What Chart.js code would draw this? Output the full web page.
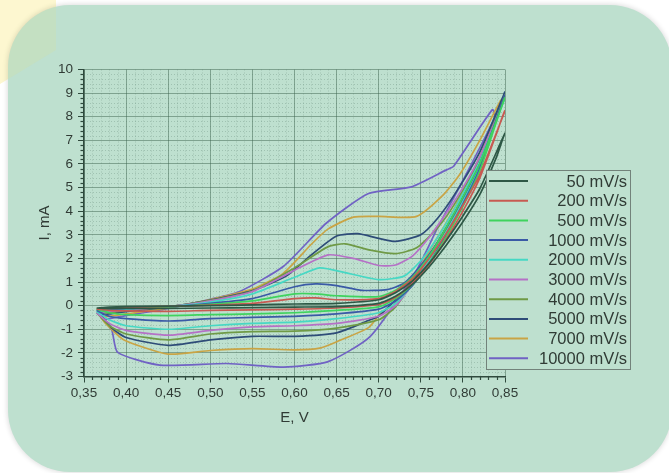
<!DOCTYPE html>
<html>
<head>
<meta charset="utf-8">
<script src="https://cdn.jsdelivr.net/npm/chart.js@4.4.1/dist/chart.umd.min.js"></script>
<style>
  html, body { margin: 0; padding: 0; background: #ffffff; width: 669px; height: 473px; overflow: hidden; }
  #blob { position: absolute; left: 0; top: 0; width: 56px; height: 84px; background: #fffbdf;
          clip-path: polygon(0 0, 56px 0, 56px 50px, 0 84px); }
  #panel { position: absolute; left: 8px; top: 5px; width: 664px; height: 467px; border-radius: 62px;
           background: #bee0cf; box-shadow: 0 0 5px 1px rgba(0,0,0,0.13); }
  #tint { position: absolute; left: 0; top: 0; width: 56px; height: 84px; background: rgba(236,226,110,0.13);
          clip-path: polygon(0 0, 56px 0, 56px 50px, 0 84px); }
  #wrap { position: absolute; left: 0; top: 0; width: 669px; height: 473px; }
</style>
</head>
<body>
<div id="blob"></div>
<div id="panel"></div>
<div id="tint"></div>
<div id="wrap"><canvas id="cv" width="669" height="473"></canvas></div>
<script>
// Cyclic voltammograms, [E (V), I (mA)] pairs: forward scan then reverse scan.
const scanLabels = ['50 mV/s', '200 mV/s', '500 mV/s', '1000 mV/s', '2000 mV/s',
                    '3000 mV/s', '4000 mV/s', '5000 mV/s', '7000 mV/s', '10000 mV/s'];

const scan50 = [
  [0.365,-0.10],[0.38,-0.06],[0.40,-0.04],[0.45,-0.02],[0.50,0.00],[0.55,0.03],[0.60,0.07],[0.65,0.10],
  [0.70,0.25],[0.72,0.55],[0.74,1.05],[0.76,1.80],[0.78,2.75],[0.80,3.80],[0.82,4.95],[0.85,7.30],
  [0.84,6.30],[0.82,4.70],[0.80,3.55],[0.78,2.55],[0.76,1.65],[0.74,0.90],[0.72,0.40],[0.70,0.10],
  [0.65,-0.04],[0.60,-0.06],[0.55,-0.08],[0.50,-0.10],[0.45,-0.12],[0.40,-0.12],[0.38,-0.12],[0.365,-0.10]
];
const scan200 = [
  [0.365,-0.15],[0.38,-0.10],[0.40,-0.07],[0.45,-0.03],[0.50,0.02],[0.55,0.10],[0.60,0.30],[0.625,0.33],
  [0.65,0.25],[0.70,0.30],[0.72,0.60],[0.74,1.15],[0.76,2.00],[0.78,3.05],[0.80,4.25],[0.82,5.55],[0.85,8.25],
  [0.84,7.30],[0.82,5.40],[0.80,4.00],[0.78,2.80],[0.76,1.75],[0.74,0.95],[0.72,0.35],[0.70,0.05],
  [0.65,-0.10],[0.60,-0.15],[0.55,-0.18],[0.50,-0.20],[0.45,-0.24],[0.40,-0.22],[0.38,-0.20],[0.365,-0.15]
];
const scan500 = [
  [0.365,-0.15],[0.38,-0.12],[0.40,-0.10],[0.45,-0.05],[0.50,0.05],[0.55,0.20],[0.60,0.50],[0.625,0.50],
  [0.65,0.42],[0.70,0.38],[0.72,0.65],[0.74,1.20],[0.76,2.10],[0.78,3.30],[0.80,4.60],[0.82,6.00],[0.85,8.80],
  [0.84,7.80],[0.82,5.70],[0.80,4.20],[0.78,2.90],[0.76,1.80],[0.74,0.90],[0.72,0.30],[0.70,-0.05],
  [0.65,-0.20],[0.60,-0.30],[0.55,-0.35],[0.50,-0.38],[0.45,-0.42],[0.40,-0.38],[0.38,-0.30],[0.365,-0.15]
];
const scan1000 = [
  [0.365,-0.20],[0.38,-0.15],[0.40,-0.12],[0.45,-0.05],[0.50,0.10],[0.55,0.30],[0.60,0.80],[0.625,0.92],
  [0.65,0.85],[0.68,0.65],[0.71,0.68],[0.73,0.95],[0.75,1.70],[0.77,2.70],[0.79,3.90],[0.82,6.00],[0.85,8.90],
  [0.84,7.90],[0.82,5.80],[0.80,4.30],[0.78,3.00],[0.76,1.80],[0.74,0.85],[0.72,0.20],[0.70,-0.15],
  [0.65,-0.35],[0.60,-0.45],[0.55,-0.50],[0.50,-0.55],[0.45,-0.65],[0.40,-0.55],[0.38,-0.45],[0.365,-0.20]
];
const scan2000 = [
  [0.365,-0.25],[0.38,-0.20],[0.40,-0.15],[0.45,-0.05],[0.50,0.15],[0.55,0.50],[0.60,1.20],[0.63,1.60],
  [0.66,1.40],[0.70,1.10],[0.73,1.25],[0.75,1.90],[0.77,2.90],[0.79,4.10],[0.82,6.10],[0.85,8.80],
  [0.84,7.90],[0.82,5.90],[0.80,4.40],[0.78,3.10],[0.76,1.90],[0.74,0.90],[0.72,0.10],[0.70,-0.30],
  [0.65,-0.55],[0.60,-0.70],[0.55,-0.75],[0.50,-0.85],[0.45,-1.00],[0.40,-0.85],[0.38,-0.60],[0.365,-0.25]
];
const scan3000 = [
  [0.365,-0.30],[0.38,-0.25],[0.40,-0.18],[0.45,-0.05],[0.50,0.20],[0.55,0.60],[0.60,1.50],[0.64,2.15],
  [0.67,2.00],[0.70,1.70],[0.72,1.72],[0.74,2.10],[0.76,2.90],[0.78,3.90],[0.80,5.00],[0.82,6.30],[0.85,8.80],
  [0.84,7.90],[0.82,5.90],[0.80,4.40],[0.78,3.10],[0.76,1.95],[0.74,0.90],[0.72,0.00],[0.70,-0.45],
  [0.65,-0.75],[0.60,-0.85],[0.55,-0.90],[0.50,-1.05],[0.45,-1.25],[0.40,-1.05],[0.38,-0.75],[0.365,-0.30]
];
const scan4000 = [
  [0.365,-0.30],[0.38,-0.30],[0.40,-0.20],[0.45,-0.05],[0.50,0.22],[0.55,0.62],[0.60,1.60],[0.64,2.50],
  [0.66,2.62],[0.69,2.35],[0.72,2.20],[0.745,2.45],[0.77,3.30],[0.79,4.30],[0.82,6.20],[0.85,8.90],
  [0.84,7.90],[0.82,5.95],[0.80,4.50],[0.78,3.20],[0.76,2.00],[0.74,0.95],[0.72,-0.05],[0.70,-0.60],
  [0.65,-0.95],[0.60,-1.08],[0.55,-1.10],[0.50,-1.20],[0.45,-1.45],[0.40,-1.20],[0.38,-0.85],[0.365,-0.30]
];
const scan5000 = [
  [0.37,-0.40],[0.38,-0.35],[0.40,-0.25],[0.45,-0.05],[0.50,0.24],[0.55,0.64],[0.59,1.25],[0.62,2.15],
  [0.65,2.95],[0.675,3.05],[0.70,2.85],[0.72,2.72],[0.75,3.00],[0.77,3.70],[0.79,4.70],[0.82,6.50],[0.85,9.05],
  [0.84,8.00],[0.82,6.10],[0.80,4.60],[0.78,3.30],[0.76,2.10],[0.74,1.00],[0.72,0.25],[0.70,-0.45],
  [0.69,-0.60],[0.65,-1.15],[0.60,-1.30],[0.55,-1.30],[0.50,-1.45],[0.45,-1.68],[0.40,-1.35],[0.383,-0.95],[0.37,-0.40]
];
const scan7000 = [
  [0.37,-0.50],[0.38,-0.45],[0.40,-0.35],[0.45,-0.10],[0.50,0.26],[0.55,0.70],[0.587,1.38],[0.62,2.60],
  [0.64,3.25],[0.67,3.75],[0.70,3.78],[0.745,3.78],[0.777,4.70],[0.797,5.60],[0.82,7.00],[0.845,8.70],
  [0.84,8.10],[0.82,6.30],[0.80,4.80],[0.78,3.50],[0.76,2.30],[0.74,1.10],[0.72,0.10],[0.703,-0.30],
  [0.688,-0.93],[0.652,-1.50],[0.63,-1.80],[0.60,-1.87],[0.55,-1.82],[0.50,-1.90],[0.45,-2.05],
  [0.397,-1.44],[0.375,-0.73],[0.37,-0.50]
];
const scan10000 = [
  [0.373,-0.59],[0.40,-0.42],[0.45,-0.12],[0.50,0.27],[0.535,0.60],[0.587,1.67],[0.638,3.50],[0.688,4.75],
  [0.739,5.03],[0.781,5.76],[0.789,5.90],[0.835,8.30],
  [0.838,8.00],[0.80,5.30],[0.77,3.30],[0.745,1.50],[0.69,-1.30],[0.64,-2.37],[0.587,-2.60],[0.52,-2.45],
  [0.44,-2.52],[0.39,-1.98],[0.383,-1.04],[0.373,-0.59]
];

const scanSeries = [scan50, scan200, scan500, scan1000, scan2000, scan3000, scan4000, scan5000, scan7000, scan10000];
const scanColors = ['#2e5846', '#c75a52', '#3fd35e', '#3a5aa6', '#46d8c4', '#b571c6', '#6f9a46', '#2e4c78', '#c9a445', '#7062c4'];

const xTickValues = [0.35, 0.40, 0.45, 0.50, 0.55, 0.60, 0.65, 0.70, 0.75, 0.80, 0.85];
const yTickValues = [-3, -2, -1, 0, 1, 2, 3, 4, 5, 6, 7, 8, 9, 10];

const inkColor = '#303b35';
const axisColor = '#2f4a3d';
const fontFamily = '"Liberation Sans", Arial, sans-serif';

// Fine dotted paper grid and short minor ticks between the labelled ones
const minorGrid = {
  id: 'minorGrid',
  beforeDatasetsDraw(chart) {
    const { ctx, chartArea: a, scales: { x, y } } = chart;
    ctx.save();
    ctx.lineWidth = 1;
    ctx.setLineDash([1, 2]);
    ctx.strokeStyle = 'rgba(80,120,100,0.28)';
    for (let k = 0; k <= 50; k++) {
      if (k % 5 === 0) continue;
      const px = Math.round(x.getPixelForValue(0.35 + k * 0.01)) + 0.5;
      ctx.beginPath(); ctx.moveTo(px, a.top); ctx.lineTo(px, a.bottom); ctx.stroke();
    }
    for (let k = 0; k <= 65; k++) {
      if (k % 5 === 0) continue;
      const py = Math.round(y.getPixelForValue(-3 + k * 0.2)) + 0.5;
      ctx.beginPath(); ctx.moveTo(a.left, py); ctx.lineTo(a.right, py); ctx.stroke();
    }
    ctx.setLineDash([]);
    ctx.strokeStyle = axisColor;
    ctx.lineWidth = 1.2;
    for (let k = 0; k <= 50; k++) {
      if (k % 5 === 0) continue;
      const px = Math.round(x.getPixelForValue(0.35 + k * 0.01)) + 0.5;
      ctx.beginPath(); ctx.moveTo(px, a.bottom); ctx.lineTo(px, a.bottom + 3.5); ctx.stroke();
    }
    for (let k = 0; k <= 65; k++) {
      if (k % 5 === 0) continue;
      const py = Math.round(y.getPixelForValue(-3 + k * 0.2)) + 0.5;
      ctx.beginPath(); ctx.moveTo(a.left - 3.5, py); ctx.lineTo(a.left, py); ctx.stroke();
    }
    ctx.restore();
  }
};

// Boxed key with the line sample on the left and right-aligned labels
const scanKey = {
  id: 'scanKey',
  afterDraw(chart) {
    const { ctx } = chart;
    const left = 486.5, top = 170.5, right = 630.5, bottom = 369.5;
    ctx.save();
    ctx.fillStyle = '#bee0cf';
    ctx.fillRect(left, top, right - left, bottom - top);
    ctx.strokeStyle = '#72827a';
    ctx.lineWidth = 1;
    ctx.strokeRect(left, top, right - left, bottom - top);
    ctx.font = '16.5px ' + fontFamily;
    ctx.textAlign = 'right';
    ctx.textBaseline = 'middle';
    chart.data.datasets.forEach((ds, i) => {
      const cy = 181 + i * 19.7;
      ctx.strokeStyle = ds.borderColor;
      ctx.lineWidth = 2;
      ctx.beginPath(); ctx.moveTo(489, cy); ctx.lineTo(528, cy); ctx.stroke();
      ctx.fillStyle = inkColor;
      ctx.fillText(ds.label, 627, cy + 1);
    });
    ctx.restore();
  }
};

new Chart(document.getElementById('cv'), {
  type: 'line',
  data: {
    datasets: scanSeries.map((pts, i) => ({
      label: scanLabels[i],
      data: pts.map(p => ({ x: p[0], y: p[1] })),
      borderColor: scanColors[i],
      backgroundColor: scanColors[i],
      borderWidth: 1.7,
      pointRadius: 0,
      tension: 0.2,
      fill: false
    }))
  },
  options: {
    responsive: false,
    animation: false,
    events: [],
    layout: { padding: { left: 36, right: 164, top: 69.5, bottom: 46 } },
    plugins: { legend: { display: false }, tooltip: { enabled: false } },
    scales: {
      x: {
        type: 'linear', min: 0.35, max: 0.85,
        afterBuildTicks: s => { s.ticks = xTickValues.map(v => ({ value: v })); },
        afterFit: s => { s.height = 50.5; },
        ticks: {
          autoSkip: false, maxRotation: 0, padding: 3, color: inkColor,
          font: { family: fontFamily, size: 13.5 },
          callback: v => Number(v).toFixed(2).replace('.', ',')
        },
        grid: { color: 'rgba(62,100,80,0.5)', lineWidth: 1, tickColor: axisColor, tickLength: 6 },
        border: { color: axisColor, width: 1.5 },
        title: { display: true, text: 'E, V', color: inkColor, padding: 0,
                 font: { family: fontFamily, size: 15 } }
      },
      y: {
        type: 'linear', min: -3, max: 10,
        afterBuildTicks: s => { s.ticks = yTickValues.map(v => ({ value: v })); },
        afterFit: s => { s.width = 48; },
        ticks: {
          autoSkip: false, padding: 5, color: inkColor,
          font: { family: fontFamily, size: 13.5 },
          callback: v => String(v)
        },
        grid: { color: 'rgba(62,100,80,0.5)', lineWidth: 1, tickColor: axisColor, tickLength: 6 },
        border: { color: axisColor, width: 1.5 },
        title: { display: true, text: 'I, mA', color: inkColor, padding: 0,
                 font: { family: fontFamily, size: 15 } }
      }
    }
  },
  plugins: [minorGrid, scanKey]
});
</script>
</body>
</html>
